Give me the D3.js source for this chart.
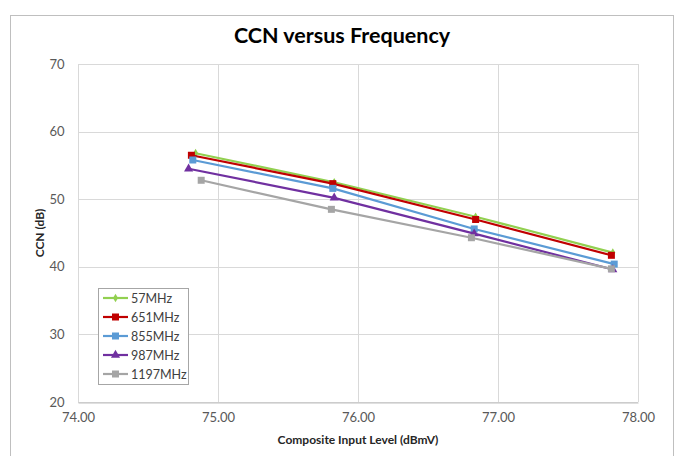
<!DOCTYPE html>
<html>
<head>
<meta charset="utf-8">
<script src="https://cdn.jsdelivr.net/npm/d3@7/dist/d3.min.js"></script>
<style>
  body { margin: 0; background: #fff; }
  svg { font-family: Lato, "Open Sans", sans-serif; }
</style>
</head>
<body>
<div id="chart"></div>
<script>
// series names and colours
var seriesNames = ['57MHz', '651MHz', '855MHz', '987MHz', '1197MHz'];
var seriesColors = ['#92d050', '#c00000', '#5b9bd5', '#7030a0', '#a5a5a5'];
var seriesMarkers = ['diamond', 'square', 'square', 'triangle', 'square'];

// composite input level (dBmV) per series
var xs57 = [74.84, 75.83, 76.84, 77.82];
var xs651 = [74.81, 75.82, 76.84, 77.81];
var xs855 = [74.82, 75.82, 76.83, 77.83];
var xs987 = [74.79, 75.83, 76.83, 77.82];
var xs1197 = [74.88, 75.81, 76.81, 77.81];

// CCN (dB) per series
var ccn57 = [56.8, 52.5, 47.4, 42.1];
var ccn651 = [56.5, 52.3, 47.0, 41.7];
var ccn855 = [55.8, 51.6, 45.6, 40.4];
var ccn987 = [54.5, 50.2, 44.9, 39.6];
var ccn1197 = [52.8, 48.5, 44.3, 39.7];

var xTicks = [74, 75, 76, 77, 78];
var yTicks = [20, 30, 40, 50, 60, 70];

var allX = [xs57, xs651, xs855, xs987, xs1197];
var allY = [ccn57, ccn651, ccn855, ccn987, ccn1197];

var width = 681, height = 456;
var plot = { left: 78, right: 638, top: 64, bottom: 402 };

var svg = d3.select('#chart').append('svg')
    .attr('width', width)
    .attr('height', height);

svg.append('rect')
    .attr('x', 10.5).attr('y', 15.5)
    .attr('width', 663).attr('height', 460)
    .attr('fill', '#fff').attr('stroke', '#bfbfbf');

var x = d3.scaleLinear().domain([74, 78]).range([plot.left, plot.right]);
var y = d3.scaleLinear().domain([20, 70]).range([plot.bottom, plot.top]);

// gridlines
svg.append('g').selectAll('line.h').data(yTicks).enter().append('line')
    .attr('x1', plot.left).attr('x2', plot.right)
    .attr('y1', function (d) { return Math.round(y(d)) + 0.5; })
    .attr('y2', function (d) { return Math.round(y(d)) + 0.5; })
    .attr('stroke', '#d9d9d9');
svg.append('g').selectAll('line.v').data(xTicks).enter().append('line')
    .attr('y1', plot.top).attr('y2', plot.bottom)
    .attr('x1', function (d) { return Math.round(x(d)) + 0.5; })
    .attr('x2', function (d) { return Math.round(x(d)) + 0.5; })
    .attr('stroke', '#d9d9d9');

// axes
var xAxis = svg.append('g')
    .attr('transform', 'translate(0,' + (Math.round(plot.bottom) + 0.5) + ')')
    .call(d3.axisBottom(x).tickValues(xTicks).tickSize(0).tickPadding(10)
        .tickFormat(d3.format('.2f')));
xAxis.select('.domain').attr('stroke', '#bfbfbf');
xAxis.selectAll('text').attr('font-size', 13).attr('fill', '#595959')
    .attr('font-family', 'Lato, sans-serif');

var yAxis = svg.append('g')
    .attr('transform', 'translate(' + (plot.left - 0.5) + ',0)')
    .call(d3.axisLeft(y).tickValues(yTicks).tickSize(0).tickPadding(13));
yAxis.select('.domain').remove();
yAxis.selectAll('text').attr('font-size', 13).attr('fill', '#595959')
    .attr('font-family', 'Lato, sans-serif');

// lines + markers
var line = d3.line()
    .x(function (d) { return x(d[0]); })
    .y(function (d) { return y(d[1]); });

function drawMarker(g, kind, cx, cy, color) {
    if (kind === 'square') {
        g.append('rect').attr('x', cx - 3.5).attr('y', cy - 3.5)
            .attr('width', 7).attr('height', 7).attr('fill', color);
    } else if (kind === 'triangle') {
        g.append('path').attr('d', d3.symbol(d3.symbolTriangle, 36)())
            .attr('transform', 'translate(' + cx + ',' + cy + ')').attr('fill', color);
    } else {
        g.append('path').attr('d', d3.symbol(d3.symbolDiamond, 22)())
            .attr('transform', 'translate(' + cx + ',' + cy + ')').attr('fill', color);
    }
}

seriesNames.forEach(function (name, i) {
    var pts = allX[i].map(function (v, j) { return [v, allY[i][j]]; });
    var g = svg.append('g');
    g.append('path').datum(pts).attr('d', line)
        .attr('fill', 'none').attr('stroke', seriesColors[i]).attr('stroke-width', 2.2);
    pts.forEach(function (p) {
        drawMarker(g, seriesMarkers[i], x(p[0]), y(p[1]), seriesColors[i]);
    });
});

// legend
var leg = svg.append('g');
leg.append('rect').attr('x', 98.5).attr('y', 288.5).attr('width', 90).attr('height', 96)
    .attr('fill', '#fff').attr('stroke', '#a6a6a6');
seriesNames.forEach(function (name, i) {
    var ly = 298 + i * 19;
    leg.append('line').attr('x1', 103).attr('x2', 128).attr('y1', ly).attr('y2', ly)
        .attr('stroke', seriesColors[i]).attr('stroke-width', 2.2);
    drawMarker(leg, seriesMarkers[i], 115.5, ly, seriesColors[i]);
    leg.append('text').attr('x', 131).attr('y', ly + 4.5).text(name)
        .attr('font-size', 12.5).attr('fill', '#404040');
});

// titles
svg.append('text').attr('x', 342).attr('y', 43).attr('text-anchor', 'middle')
    .attr('font-size', 21.5).attr('font-weight', 'bold').attr('fill', '#000')
    .text('CCN versus Frequency');
svg.append('text').attr('x', 358).attr('y', 444).attr('text-anchor', 'middle')
    .attr('font-size', 12).attr('font-weight', 'bold').attr('fill', '#262626')
    .text('Composite Input Level (dBmV)');
svg.append('text').attr('transform', 'translate(44,233) rotate(-90)')
    .attr('text-anchor', 'middle')
    .attr('font-size', 12).attr('font-weight', 'bold').attr('fill', '#262626')
    .text('CCN (dB)');
</script>
</body>
</html>
